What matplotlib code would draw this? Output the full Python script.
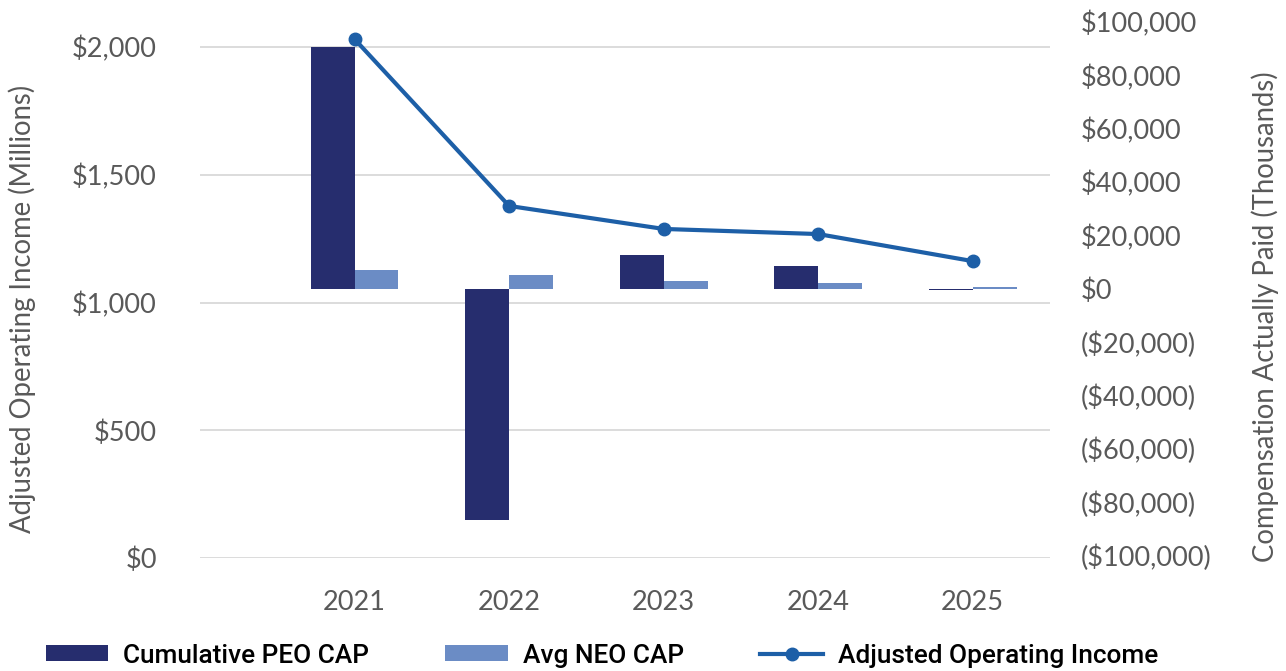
import matplotlib
matplotlib.use('Agg')
import matplotlib.pyplot as plt
import numpy as np

years = ['2021', '2022', '2023', '2024', '2025']
peo_cap = [90600, -86900, 12700, 8600, -500]      # thousands
neo_cap = [7100, 5200, 3000, 2200, 700]           # thousands
adj_op_income = [2031, 1378, 1288, 1268, 1162]    # millions

dark = '#262d6e'
light = '#6b8cc5'
linec = '#1d5fa7'
gray = '#595959'
tickfont = 'Lato'

fig = plt.figure(figsize=(12.86, 6.71), dpi=100)
ax = fig.add_axes([200/1286, 1-558/671, 850/1286, 536/671])
ax2 = ax.twinx()
ax3 = ax.twinx()   # line on top, same scale as left axis
ax.set_zorder(1)
ax2.set_zorder(2)
ax3.set_zorder(3)
ax2.patch.set_visible(False)
ax3.patch.set_visible(False)

x = np.arange(len(years))
w = 0.284
b1 = ax2.bar(x - w/2, peo_cap, w, color=dark, label='Cumulative PEO CAP')
b2 = ax2.bar(x + w/2, neo_cap, w, color=light, label='Avg NEO CAP')
l1, = ax3.plot(x, adj_op_income, color=linec, lw=3, marker='o', ms=9,
               label='Adjusted Operating Income')

ax.set_xlim(-1, 4.5)
ax.set_ylim(0, 2098)
ax3.set_ylim(0, 2098)
ax3.set_yticks([])
ax.set_yticks([0, 500, 1000, 1500, 2000])
ax.set_yticklabels(['$0', '$500', '$1,000', '$1,500', '$2,000'])
ax.grid(axis='y', color='#d9d9d9', lw=1.3)
ax.set_xticks(x)
ax.set_xticklabels(years)

ax2.set_ylim(-101000, 100000)
rt = np.arange(-100000, 100001, 20000)
ax2.set_yticks(rt)
ax2.set_yticklabels(['$0' if v == 0 else ('${:,}'.format(v) if v > 0 else '(${:,})'.format(-v)) for v in rt])

for a in (ax, ax2, ax3):
    for s in a.spines.values():
        s.set_visible(False)
    a.tick_params(length=0, colors=gray, labelsize=19.5)
    for lab in a.get_xticklabels() + a.get_yticklabels():
        lab.set_family(tickfont)
ax.tick_params(axis='y', pad=31)
ax.tick_params(axis='x', pad=23)
ax2.tick_params(axis='y', pad=22)

ax.set_ylabel('Adjusted Operating Income (Millions)', fontsize=19.8, color=gray,
              family=tickfont, va='center')
ax.yaxis.set_label_coords(-0.2094, 0.465)
ax2.set_ylabel('Compensation Actually Paid (Thousands)', fontsize=19.8, color=gray,
               family=tickfont, va='center')
ax2.yaxis.set_label_coords(1.253, 0.45)

fig.legend(handles=[b1, b2, l1], loc='lower left', bbox_to_anchor=(22/1286, -0.03),
           ncol=3, frameon=False, handlelength=2.38, handleheight=0.55,
           handletextpad=0.58, columnspacing=2.9,
           prop={'family': 'Roboto', 'weight': 'medium', 'size': 18.9})

fig.savefig('out.png', dpi=100)
